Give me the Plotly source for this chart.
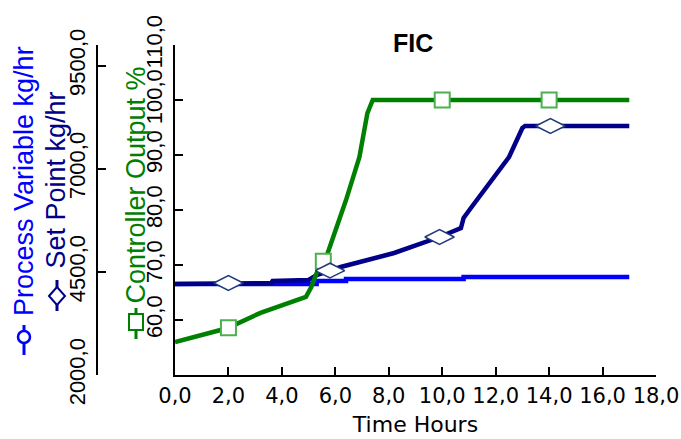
import numpy as np
import plotly.graph_objects as go

# ---- data ----
# time in hours
pv_time = [0.0, 5.3, 6.4, 10.8, 17.0]
pv_kg_hr = [4206, 4279, 4327, 4376, 4376]

sp_time = [0.0, 1.05, 1.1, 3.6, 3.65, 5.0, 5.3, 6.2, 8.2, 9.9, 10.7, 10.8,
           11.1, 11.9, 12.5, 13.0, 13.1, 17.0]
sp_kg_hr = [4206, 4206, 4230, 4230, 4279, 4303, 4424, 4618, 4958, 5345, 5564,
            5806, 6073, 6776, 7285, 7988, 8036, 8036]

co_time = [0.0, 1.95, 3.2, 4.4, 4.9, 5.1, 5.3, 5.7, 6.4, 6.9, 7.2, 7.4, 17.0]
co_pct = [56.0, 58.5, 61.3, 63.3, 64.2, 66.0, 68.5, 72.0, 81.8, 89.6, 97.6,
          100.0, 100.0]

sp_marker_time = [2.0, 5.8, 9.9, 14.05]
co_marker_time = [2.0, 5.55, 10.0, 14.0]

x_ticks = [0, 2, 4, 6, 8, 10, 12, 14, 16, 18]
co_ticks = [60, 70, 80, 90, 100, 110]
kg_ticks = [2000, 4500, 7000, 9500]

W, H = 681, 439
BLUE = "#0000FF"
NAVY = "#000088"
GREEN = "#008000"
ARIAL = "Liberation Sans, Arial, sans-serif"
WIDE = "DejaVu Sans, sans-serif"


def px(x):
    return x / W


def py(y):
    return 1 - y / H


fig = go.Figure()

fig.add_trace(go.Scatter(x=pv_time, y=pv_kg_hr, mode="lines", yaxis="y",
                         line=dict(color=BLUE, width=4.5, shape="hv")))
fig.add_trace(go.Scatter(x=sp_time, y=sp_kg_hr, mode="lines", yaxis="y",
                         line=dict(color=NAVY, width=4.5)))
fig.add_trace(go.Scatter(x=co_time, y=co_pct, mode="lines", yaxis="y2",
                         line=dict(color=GREEN, width=4.5)))
fig.add_trace(go.Scatter(x=co_marker_time,
                         y=np.interp(co_marker_time, co_time, co_pct),
                         mode="markers", yaxis="y2",
                         marker=dict(symbol="square", size=15, color="white",
                                     line=dict(color="#4CAF50", width=2))))
fig.add_trace(go.Scatter(x=sp_marker_time,
                         y=np.interp(sp_marker_time, sp_time, sp_kg_hr),
                         mode="markers", yaxis="y3",
                         marker=dict(symbol="diamond-wide", size=21, color="white",
                                     line=dict(color="#1F3A7A", width=1.5))))

dom_y = [py(375), py(45)]
axis_common = dict(showline=True, linecolor="black", linewidth=2,
                   ticks="inside", ticklen=8, tickwidth=2, tickcolor="black",
                   showgrid=False, zeroline=False, tickformat=".1f")
ytick_font = dict(family=ARIAL, size=22, color="black")

fig.update_layout(
    width=W, height=H,
    template="none",
    separators=",.",
    showlegend=False,
    margin=dict(l=0, r=0, t=0, b=0),
    plot_bgcolor="white", paper_bgcolor="white",
    xaxis=dict(axis_common, domain=[px(175), px(656)], range=[0, 18],
               tickvals=x_ticks, anchor="y", ticklabelstandoff=1,
               tickfont=dict(family=WIDE, size=21, color="black"),
               title=dict(text="Time Hours", standoff=9,
                          font=dict(family=WIDE, size=22, color="black"))),
    yaxis=dict(axis_common, domain=dom_y, range=[2000, 10000],
               tickvals=kg_ticks, anchor="free", position=px(97),
               tickangle=-90, ticklabelstandoff=2, tickfont=ytick_font),
    yaxis2=dict(axis_common, domain=dom_y, range=[50, 110],
                tickvals=co_ticks, anchor="x", overlaying="y",
                side="left", tickangle=-90, ticklabelstandoff=2,
                tickfont=ytick_font),
    yaxis3=dict(domain=dom_y, range=[2000, 10000], overlaying="y",
                anchor="x", visible=False),
)

fig.add_annotation(text="<b>FIC</b>", x=px(413), y=py(27), xref="paper",
                   yref="paper", showarrow=False,
                   font=dict(family=ARIAL, size=25, color="black"))

# rotated axis titles
titles = [("Process Variable kg/hr", BLUE, 24, 318),
          ("Set Point kg/hr", NAVY, 55, 271),
          ("Controller Output %", GREEN, 135, 306)]
for text, col, xc, ybot in titles:
    fig.add_annotation(text=text, textangle=-90, x=px(xc), y=py(ybot),
                       xref="paper", yref="paper", xanchor="center",
                       yanchor="bottom", showarrow=False,
                       font=dict(family=ARIAL, size=27, color=col))

# legend icons next to the titles
shapes = []
# process variable: line + circle
shapes.append(dict(type="line", x0=px(24), x1=px(24), y0=py(325), y1=py(355),
                   line=dict(color=BLUE, width=3)))
shapes.append(dict(type="circle", x0=px(18), x1=px(30), y0=py(331), y1=py(343),
                   fillcolor="white", line=dict(color=BLUE, width=2.5)))
# set point: line + diamond
shapes.append(dict(type="line", x0=px(57), x1=px(57), y0=py(280), y1=py(311),
                   line=dict(color=NAVY, width=3)))
shapes.append(dict(type="path",
                   path=f"M {px(49)} {py(296)} L {px(57)} {py(287)} "
                        f"L {px(65)} {py(296)} L {px(57)} {py(305)} Z",
                   fillcolor="white", line=dict(color=NAVY, width=2)))
# controller output: line + square
shapes.append(dict(type="line", x0=px(136), x1=px(136), y0=py(308), y1=py(339),
                   line=dict(color=GREEN, width=3)))
shapes.append(dict(type="rect", x0=px(129), x1=px(143), y0=py(314), y1=py(330),
                   fillcolor="white", line=dict(color=GREEN, width=2)))
for s in shapes:
    s.update(xref="paper", yref="paper")
fig.update_layout(shapes=shapes)

# drop the default page margin so the figure fills the window exactly
fig.write_html("out.html", config={"displayModeBar": False},
               post_script="document.body.style.margin='0';"
                           "document.body.style.overflow='hidden';")
